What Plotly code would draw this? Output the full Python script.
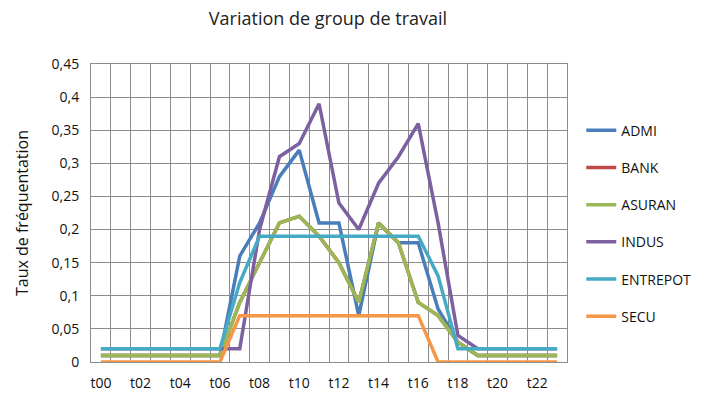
import plotly.graph_objects as go

# Hourly slots t00..t23
hours = [f"t{h:02d}" for h in range(24)]
hour_labels = [h if i % 2 == 0 else "" for i, h in enumerate(hours)]

# Attendance rate per work group
admi = [0.01, 0.01, 0.01, 0.01, 0.01, 0.01, 0.01, 0.16, 0.21, 0.28, 0.32, 0.21,
        0.21, 0.07, 0.21, 0.18, 0.18, 0.08, 0.03, 0.01, 0.01, 0.01, 0.01, 0.01]
bank = [0.01, 0.01, 0.01, 0.01, 0.01, 0.01, 0.01, 0.09, 0.15, 0.21, 0.22, 0.19,
        0.15, 0.09, 0.21, 0.18, 0.09, 0.07, 0.03, 0.01, 0.01, 0.01, 0.01, 0.01]
asuran = [0.01, 0.01, 0.01, 0.01, 0.01, 0.01, 0.01, 0.09, 0.15, 0.21, 0.22, 0.19,
          0.15, 0.09, 0.21, 0.18, 0.09, 0.07, 0.03, 0.01, 0.01, 0.01, 0.01, 0.01]
indus = [0.02, 0.02, 0.02, 0.02, 0.02, 0.02, 0.02, 0.02, 0.20, 0.31, 0.33, 0.39,
         0.24, 0.20, 0.27, 0.31, 0.36, 0.21, 0.04, 0.02, 0.02, 0.02, 0.02, 0.02]
entrepot = [0.02, 0.02, 0.02, 0.02, 0.02, 0.02, 0.02, 0.12, 0.19, 0.19, 0.19, 0.19,
            0.19, 0.19, 0.19, 0.19, 0.19, 0.13, 0.02, 0.02, 0.02, 0.02, 0.02, 0.02]
secu = [0, 0, 0, 0, 0, 0, 0, 0.07, 0.07, 0.07, 0.07, 0.07,
        0.07, 0.07, 0.07, 0.07, 0.07, 0, 0, 0, 0, 0, 0, 0]

y_ticks = [0, 0.05, 0.1, 0.15, 0.2, 0.25, 0.3, 0.35, 0.4, 0.45]
y_tick_labels = ["0", "0,05", "0,1", "0,15", "0,2", "0,25", "0,3", "0,35", "0,4", "0,45"]

series = [
    ("ADMI", admi, "#4A7EBB"),
    ("BANK", bank, "#BE4B48"),
    ("ASURAN", asuran, "#98B954"),
    ("INDUS", indus, "#7D60A0"),
    ("ENTREPOT", entrepot, "#46AAC5"),
    ("SECU", secu, "#F79646"),
]

fig = go.Figure()
for name, vals, color in series:
    fig.add_trace(go.Scatter(
        x=hours, y=vals, name=name, mode="lines",
        line=dict(color=color, width=3.5),
        legendgroup=name,
    ))

grid = "#8C8C8C"
font_family = "Open Sans, Liberation Sans, sans-serif"

fig.update_layout(
    width=712, height=396,
    margin=dict(l=91, r=145, t=64, b=34),
    paper_bgcolor="white", plot_bgcolor="white",
    title=dict(text="Variation de group de travail", x=328 / 712, xanchor="center",
               y=1 - 19 / 396, yanchor="middle",
               font=dict(family=font_family, size=18, color="#222222")),
    font=dict(family=font_family, color="#111111"),
    showlegend=True,
    legend=dict(x=1.03, xanchor="left", xref="paper", y=0.83, yanchor="top",
                font=dict(size=14, color="#111111"), tracegroupgap=16,
                itemwidth=30, bgcolor="rgba(0,0,0,0)"),
    xaxis=dict(
        type="category", range=[-0.5, 23.5], automargin=False,
        tickmode="array", tickvals=hours, ticktext=hour_labels, tickangle=0,
        tickson="boundaries", ticks="", showgrid=True, gridcolor=grid, gridwidth=1,
        showline=True, linecolor=grid, mirror=True, ticklabelstandoff=8,
        tickfont=dict(size=14, color="#111111"),
    ),
    yaxis=dict(
        range=[0, 0.45], tickmode="array", tickvals=y_ticks, ticktext=y_tick_labels,
        automargin=False,
        showgrid=True, gridcolor=grid, gridwidth=1, zeroline=False,
        showline=True, linecolor=grid, mirror=True, ticks="", ticklen=0,
        ticklabelstandoff=8,
        tickfont=dict(size=14, color="#111111"),
        title=dict(text="Taux de fréquentation", standoff=18,
                   font=dict(size=16, color="#111111")),
    ),
)

fig.write_html("out.html")
